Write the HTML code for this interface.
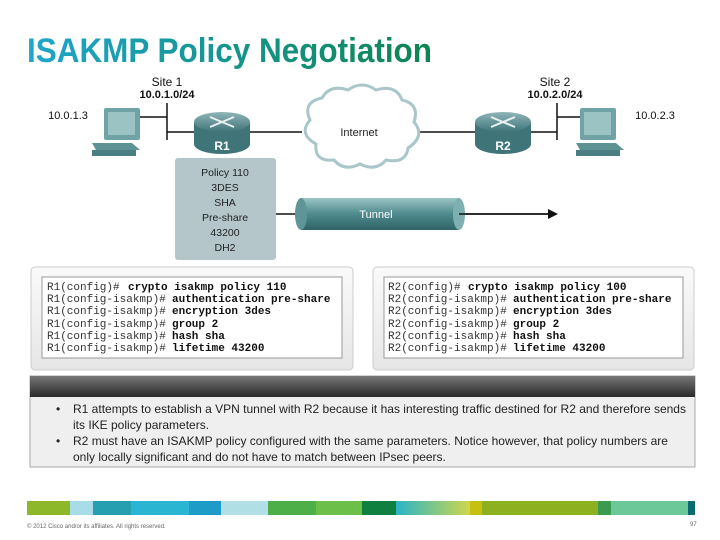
<!DOCTYPE html>
<html><head><meta charset="utf-8"><style>
html,body{margin:0;padding:0;background:#fff;width:720px;height:540px;overflow:hidden}
svg{display:block}
.s{font-family:"Liberation Sans",Arial,sans-serif}
.m{font-family:"Liberation Mono",monospace;font-size:11px}
</style></head><body>
<svg width="720" height="540" viewBox="0 0 720 540" xmlns="http://www.w3.org/2000/svg">
<defs>
<linearGradient id="tg" x1="0" x2="1"><stop offset="0" stop-color="#1ea6cc"/><stop offset="1" stop-color="#0e8450"/></linearGradient>
<linearGradient id="rt" x1="0" x2="0" y1="0" y2="1"><stop offset="0" stop-color="#8fb5b8"/><stop offset="1" stop-color="#3f7479"/></linearGradient>
<linearGradient id="tn" x1="0" x2="0" y1="0" y2="1"><stop offset="0" stop-color="#9cc4c4"/><stop offset="0.5" stop-color="#4f8a8c"/><stop offset="1" stop-color="#2f6466"/></linearGradient>
<linearGradient id="hd" x1="0" x2="0" y1="0" y2="1"><stop offset="0" stop-color="#777"/><stop offset="1" stop-color="#2a2a2a"/></linearGradient>
<linearGradient id="pn" x1="0" x2="0" y1="0" y2="1"><stop offset="0" stop-color="#fafafa"/><stop offset="1" stop-color="#e6e6e6"/></linearGradient>
<linearGradient id="gy" x1="0" x2="1"><stop offset="0" stop-color="#2ab4c8"/><stop offset="1" stop-color="#cfd84a"/></linearGradient>
</defs>
<text x="27" y="62" class="s" font-size="34" font-weight="bold" fill="url(#tg)" textLength="405" lengthAdjust="spacingAndGlyphs">ISAKMP Policy Negotiation</text>

<g stroke="#111" stroke-width="1.5" fill="none">
<line x1="167" y1="103" x2="167" y2="140"/><line x1="140" y1="117" x2="167" y2="117"/><line x1="167" y1="132" x2="196" y2="132"/>
<line x1="249" y1="132" x2="302" y2="132"/><line x1="418" y1="132" x2="476" y2="132"/>
<line x1="530" y1="132" x2="557" y2="132"/><line x1="557" y1="103" x2="557" y2="140"/><line x1="557" y1="117" x2="582" y2="117"/>
<line x1="276" y1="214" x2="552" y2="214"/>
</g>
<polygon points="548,209 558,214 548,219" fill="#111"/>

<g>
<rect x="104" y="108" width="36" height="32" rx="2" fill="#6fa3a5"/><rect x="108" y="112" width="27" height="23" fill="#9cc3c4"/>
<polygon points="92,143 132,143 140,150 96,150" fill="#5f9293"/><rect x="92" y="150" width="44" height="6" fill="#4b7e80"/>
<rect x="580" y="108" width="36" height="32" rx="2" fill="#6fa3a5"/><rect x="584" y="112" width="27" height="23" fill="#9cc3c4"/>
<polygon points="576,143 616,143 624,150 580,150" fill="#5f9293"/><rect x="576" y="150" width="44" height="6" fill="#4b7e80"/>
</g>
<g>
<path d="M194,122 v22 a28,10 0 0 0 56,0 v-22 z" fill="#3f7479"/><ellipse cx="222" cy="122" rx="28" ry="10" fill="url(#rt)"/>
<path d="M210,117 l24,10 M234,117 l-24,10" stroke="#e8f0f0" stroke-width="2"/>
<text x="222" y="150" class="s" font-size="12" font-weight="bold" fill="#fff" text-anchor="middle">R1</text>
<path d="M475,122 v22 a28,10 0 0 0 56,0 v-22 z" fill="#3f7479"/><ellipse cx="503" cy="122" rx="28" ry="10" fill="url(#rt)"/>
<path d="M491,117 l24,10 M515,117 l-24,10" stroke="#e8f0f0" stroke-width="2"/>
<text x="503" y="150" class="s" font-size="12" font-weight="bold" fill="#fff" text-anchor="middle">R2</text>
</g>
<path d="M310,120 q-8,-18 12,-22 q8,-14 26,-8 q14,-10 28,0 q20,-6 26,10 q18,4 12,22 q12,14 -6,26 q-2,16 -22,12 q-10,12 -26,4 q-16,8 -26,-4 q-20,2 -18,-16 q-18,-10 -6,-24 z" fill="#fff" stroke="#a9c6c9" stroke-width="3"/>
<text x="359" y="136" class="s" font-size="11" fill="#222" text-anchor="middle">Internet</text>

<g class="s" fill="#111" text-anchor="middle">
<text x="167" y="86" font-size="12">Site 1</text><text x="167" y="98" font-size="11" font-weight="bold">10.0.1.0/24</text>
<text x="555" y="86" font-size="12">Site 2</text><text x="555" y="98" font-size="11" font-weight="bold">10.0.2.0/24</text>
<text x="68" y="119" font-size="11">10.0.1.3</text><text x="655" y="119" font-size="11">10.0.2.3</text>
</g>

<rect x="175" y="158" width="101" height="102" rx="3" fill="#b4c6c9"/>
<g class="s" font-size="10.5" fill="#222" text-anchor="middle">
<text x="225" y="176">Policy 110</text><text x="225" y="191">3DES</text><text x="225" y="206">SHA</text>
<text x="225" y="221">Pre-share</text><text x="225" y="236">43200</text><text x="225" y="251">DH2</text>
</g>
<rect x="301" y="198" width="158" height="32" fill="url(#tn)"/>
<ellipse cx="301" cy="214" rx="6" ry="16" fill="#5e9597"/>
<ellipse cx="459" cy="214" rx="6" ry="16" fill="#7fb0b1"/>
<line x1="459" y1="214" x2="552" y2="214" stroke="#111" stroke-width="1.5"/>
<text x="376" y="218" class="s" font-size="11" fill="#fff" text-anchor="middle">Tunnel</text>

<rect x="31" y="267" width="322" height="103" rx="4" fill="url(#pn)" stroke="#ccc"/>
<rect x="42" y="277" width="300" height="81" fill="#fff" stroke="#999"/>
<rect x="373" y="267" width="321" height="103" rx="4" fill="url(#pn)" stroke="#ccc"/>
<rect x="384" y="277" width="299" height="81" fill="#fff" stroke="#999"/>
<g class="m" fill="#333">
<text x="47" y="290">R1(config)#</text><text x="47" y="302">R1(config-isakmp)#</text><text x="47" y="314">R1(config-isakmp)#</text>
<text x="47" y="327">R1(config-isakmp)#</text><text x="47" y="339">R1(config-isakmp)#</text><text x="47" y="351">R1(config-isakmp)#</text>
<text x="388" y="290">R2(config)#</text><text x="388" y="302">R2(config-isakmp)#</text><text x="388" y="314">R2(config-isakmp)#</text>
<text x="388" y="327">R2(config-isakmp)#</text><text x="388" y="339">R2(config-isakmp)#</text><text x="388" y="351">R2(config-isakmp)#</text>
</g>
<g class="m" fill="#111" font-weight="bold">
<text x="128" y="290">crypto isakmp policy 110</text><text x="172" y="302">authentication pre-share</text><text x="172" y="314">encryption 3des</text>
<text x="172" y="327">group 2</text><text x="172" y="339">hash sha</text><text x="172" y="351">lifetime 43200</text>
<text x="468" y="290">crypto isakmp policy 100</text><text x="513" y="302">authentication pre-share</text><text x="513" y="314">encryption 3des</text>
<text x="513" y="327">group 2</text><text x="513" y="339">hash sha</text><text x="513" y="351">lifetime 43200</text>
</g>

<rect x="30" y="376" width="665" height="91" fill="#efefef" stroke="#aaa"/>
<rect x="30" y="376" width="665" height="21" fill="url(#hd)"/>
<g class="s" font-size="12" fill="#222">
<text x="56" y="413">•</text><text x="73" y="413" textLength="613" lengthAdjust="spacingAndGlyphs">R1 attempts to establish a VPN tunnel with R2 because it has interesting traffic destined for R2 and therefore sends</text>
<text x="73" y="429">its IKE policy parameters.</text>
<text x="56" y="445">•</text><text x="73" y="445" textLength="595" lengthAdjust="spacingAndGlyphs">R2 must have an ISAKMP policy configured with the same parameters. Notice however, that policy numbers are</text>
<text x="73" y="461">only locally significant and do not have to match between IPsec peers.</text>
</g>

<g>
<rect x="27" y="501" width="43" height="14" fill="#8cb82a"/>
<rect x="70" y="501" width="23" height="14" fill="#a8dce6"/>
<rect x="93" y="501" width="38" height="14" fill="#26a0b0"/>
<rect x="131" y="501" width="58" height="14" fill="#2ab6d2"/>
<rect x="189" y="501" width="32" height="14" fill="#1e9cc8"/>
<rect x="221" y="501" width="47" height="14" fill="#b0e0e6"/>
<rect x="268" y="501" width="48" height="14" fill="#4caf48"/>
<rect x="316" y="501" width="46" height="14" fill="#6cc04a"/>
<rect x="362" y="501" width="34" height="14" fill="#108040"/>
<rect x="396" y="501" width="74" height="14" fill="url(#gy)"/>
<rect x="470" y="501" width="12" height="14" fill="#c8c010"/>
<rect x="482" y="501" width="116" height="14" fill="#8cb020"/>
<rect x="598" y="501" width="13" height="14" fill="#3a9a50"/>
<rect x="611" y="501" width="77" height="14" fill="#6cc898"/>
<rect x="688" y="501" width="7" height="14" fill="#0a6a70"/>
</g>
<text x="27" y="528" class="s" font-size="6" fill="#666">© 2012 Cisco and/or its affiliates. All rights reserved.</text>
<text x="690" y="526" class="s" font-size="6" fill="#666">97</text>
</svg>
</body></html>
